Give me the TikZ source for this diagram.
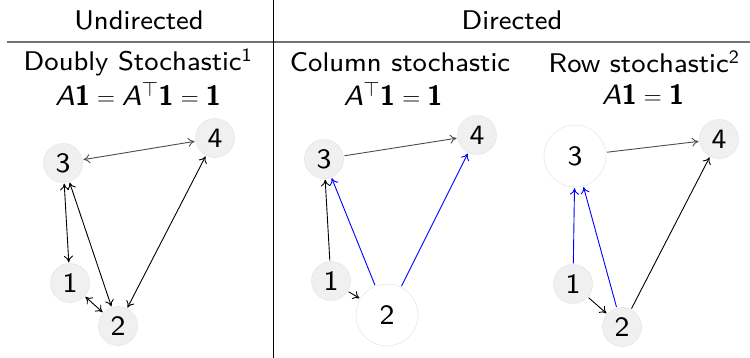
\documentclass[tikz,border=0pt]{standalone}
\usepackage{amsmath,amssymb}
\usepackage{fontspec}
\setsansfont{lmsans8-regular.otf}[ItalicFont=lmsans8-oblique.otf, BoldFont=lmsans10-bold.otf]
\usetikzlibrary{arrows.meta}
\tikzset{
  vtx/.style={circle, draw=black!12, fill=black!6, minimum size=39pt, inner sep=0pt,
    font=\fontsize{28}{32}\selectfont\sffamily},
  bigvtx/.style={vtx, fill=white, minimum size=62pt},
  edge/.style={-{To[length=6.5pt,width=9pt]}, line width=0.9pt, shorten >=1pt, shorten <=1pt},
  both/.style={edge, {To[length=6.5pt,width=9pt]}-{To[length=6.5pt,width=9pt]}},
  blueedge/.style={edge, blue},
  greyedge/.style={edge, black!70},
  head/.style={font=\fontsize{27}{32}\selectfont\sffamily},
  eqhead/.style={font=\fontsize{28}{32}\selectfont\sffamily}
}
\newcommand{\vone}{\textbf{1}}
\begin{document}
\begin{tikzpicture}[x=1pt, y=-1pt]
    \useasboundingbox (0,0) rectangle (750,358);

    % Separators
    \draw[black!55, line width=1.6pt] (7,42) -- (750,42);
    \draw[line width=1pt] (273,0) -- (273,358);

    % Headings
    \node[head] (undir) at (139,20) {Undirected};
    \node[head] (dir) at (512,20) {Directed};
    \node[head] (dbl) at (138,62) {Doubly Stochastic\textsuperscript{1}};
    \node[eqhead] (dbleq) at (138,94) {\textit{A}\vone${}={}$\textit{A}$^{\top}$\vone${}={}$\vone};
    \node[head] (col) at (400,62) {Column stochastic};
    \node[eqhead] (coleq) at (393,94) {\textit{A}$^{\top}$\vone${}={}$\vone};
    \node[head] (row) at (644,62) {Row stochastic\textsuperscript{2}};
    \node[eqhead] (roweq) at (643,94) {\textit{A}\vone${}={}$\vone};

    % Undirected graph
    \node[vtx] (u3) at (63,163) {3};
    \node[vtx] (u4) at (215,138) {4};
    \node[vtx] (u1) at (70,283) {1};
    \node[vtx] (u2) at (118,326) {2};
    \draw[both, black!70] (u3) -- (u4);
    \draw[both] (u3) -- (u1);
    \draw[both] (u3) -- (u2);
    \draw[both] (u1) -- (u2);
    \draw[both] (u4) -- (u2);

    % Column stochastic graph
    \node[vtx] (c3) at (324,159) {3};
    \node[vtx] (c4) at (477,135) {4};
    \node[vtx] (c1) at (331,281) {1};
    \node[bigvtx] (c2) at (387,315) {2};
    \draw[greyedge] (c3) -- (c4);
    \draw[edge] (c1) -- (c3);
    \draw[edge] (c1) -- (c2);
    \draw[blueedge] (c2) -- (c3);
    \draw[blueedge] (c2) -- (c4);

    % Row stochastic graph
    \node[bigvtx] (r3) at (575,156) {3};
    \node[vtx] (r4) at (719,139) {4};
    \node[vtx] (r1) at (573,284) {1};
    \node[vtx] (r2) at (622,327) {2};
    \draw[greyedge] (r3) -- (r4);
    \draw[blueedge] (r1) -- (r3);
    \draw[blueedge] (r2) -- (r3);
    \draw[edge] (r1) -- (r2);
    \draw[edge] (r2) -- (r4);
\end{tikzpicture}
\end{document}
